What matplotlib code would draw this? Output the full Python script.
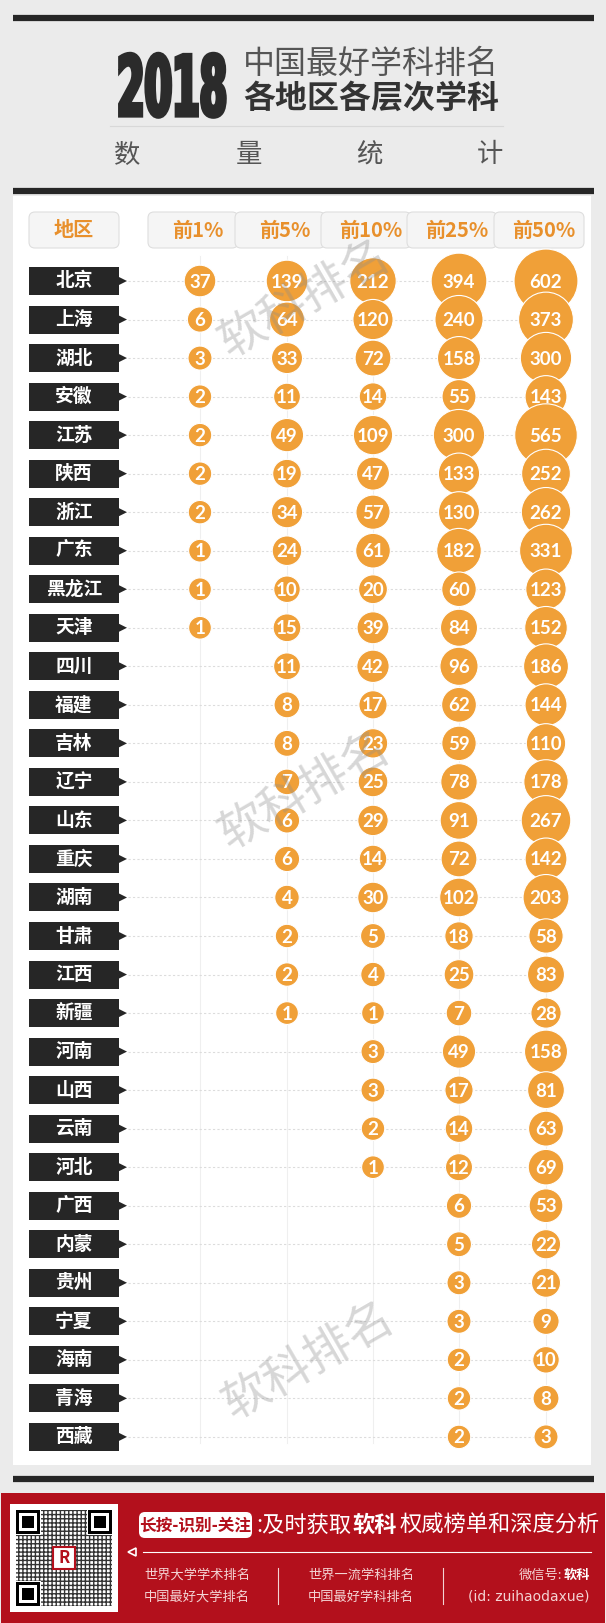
import numpy as np
import matplotlib
matplotlib.use("Agg")
import matplotlib.pyplot as plt
from matplotlib.patches import Rectangle, FancyBboxPatch, Polygon
from matplotlib import font_manager, patheffects
from matplotlib.transforms import Affine2D

plt.rcParams['font.family'] = ['Noto Sans CJK SC', 'DejaVu Sans']

regions = ['北京', '上海', '湖北', '安徽', '江苏', '陕西', '浙江', '广东', '黑龙江', '天津',
           '四川', '福建', '吉林', '辽宁', '山东', '重庆', '湖南', '甘肃', '江西', '新疆',
           '河南', '山西', '云南', '河北', '广西', '内蒙', '贵州', '宁夏', '海南', '青海', '西藏']
levels = ['前1%', '前5%', '前10%', '前25%', '前50%']
top1 = [37, 6, 3, 2, 2, 2, 2, 1, 1, 1]
top5 = [139, 64, 33, 11, 49, 19, 34, 24, 10, 15, 11, 8, 8, 7, 6, 6, 4, 2, 2, 1]
top10 = [212, 120, 72, 14, 109, 47, 57, 61, 20, 39, 42, 17, 23, 25, 29, 14, 30, 5, 4, 1,
         3, 3, 2, 1]
top25 = [394, 240, 158, 55, 300, 133, 130, 182, 60, 84, 96, 62, 59, 78, 91, 72, 102, 18, 25, 7,
         49, 17, 14, 12, 6, 5, 3, 3, 2, 2, 2]
top50 = [602, 373, 300, 143, 565, 252, 262, 331, 123, 152, 186, 144, 110, 178, 267, 142, 203, 58, 83, 28,
         158, 81, 63, 69, 53, 22, 21, 9, 10, 8, 3]
columns = [top1, top5, top10, top25, top50]

W, H = 606, 1623
BG = '#ebebeb'
ORANGE = '#f0a038'
DARK = '#262626'
RED = '#b3101c'

avail = {f.name for f in font_manager.fontManager.ttflist}
numfont = next((f for f in ['Lato', 'Open Sans', 'DejaVu Sans'] if f in avail), 'DejaVu Sans')


class Stretch(patheffects.AbstractPathEffect):
    # stretch glyphs vertically around y0 (display px) and thicken with a stroke
    def __init__(self, sy, y0, lw, color):
        super().__init__()
        self.sy, self.y0, self.lw, self.color = sy, y0, lw, color

    def draw_path(self, renderer, gc, tpath, affine, rgbFace=None):
        aff = affine + Affine2D().translate(0, -self.y0).scale(1, self.sy).translate(0, self.y0)
        gc0 = renderer.new_gc()
        gc0.copy_properties(gc)
        gc0.set_linewidth(self.lw)
        gc0.set_foreground(self.color)
        gc0.set_joinstyle('miter')
        renderer.draw_path(gc0, tpath, aff, rgbFace)
        gc0.restore()


fig = plt.figure(figsize=(W / 100, H / 100), dpi=100, facecolor=BG)
ax = fig.add_axes([0, 0, 1, 1])
ax.set_xlim(0, W)
ax.set_ylim(H, 0)
ax.axis('off')

# title block
ax.plot([13, 594], [18, 18], color=DARK, lw=4.5, solid_capstyle='butt')
ax.plot([13, 594], [191, 191], color=DARK, lw=4.5, solid_capstyle='butt')
t2018 = ax.text(117, 83, '2018', family=['DejaVu Sans'], weight='bold', fontsize=28.5,
                color='#2b2b2b', ha='left', va='center_baseline')
y0 = ax.transData.transform((0, 83))[1]
t2018.set_path_effects([Stretch(2.1, y0, 3.0, '#2b2b2b')])
ax.text(243, 64, '中国最好学科排名', fontsize=23, weight='light', color='#555555', va='center')
ax.text(243, 99, '各地区各层次学科', fontsize=23, weight='bold', color='#333333', va='center')
ax.plot([110, 503], [126, 126], color='#d8d8d8', lw=0.8)
for ch, x in zip('数量统计', [127, 249, 369, 490]):
    ax.text(x, 155, ch, fontsize=19, color='#555555', ha='center', va='center')

# white panel
ax.add_patch(Rectangle((13, 196), 578, 1269, facecolor='white', edgecolor='none', zorder=0))
ax.plot([13, 594], [1479, 1479], color=DARK, lw=4.5, solid_capstyle='butt')

col_x = np.array([200, 287, 373, 459, 546])
y0, dy = 281, 38.53
row_y = y0 + dy * np.arange(len(regions))

# header row
ax.add_patch(FancyBboxPatch((29, 212), 90, 36, boxstyle='round,pad=0,rounding_size=6',
                            facecolor='#f5f5f5', edgecolor='#dedede', lw=0.8, zorder=1))
ax.text(74, 230, '地区', fontsize=14.5, weight='bold', color='#e8902c', ha='center', va='center', zorder=2)
for cx, lab in zip(col_x, levels):
    ax.add_patch(FancyBboxPatch((cx - 52, 212), 90, 36, boxstyle='round,pad=0,rounding_size=6',
                                facecolor='#f5f5f5', edgecolor='#dedede', lw=0.8, zorder=1))
    ax.text(cx - 2, 230, lab, fontsize=14.5, weight='bold', color='#e8902c', ha='center', va='center',
            zorder=2)

# grid lines
for cx in col_x:
    ax.plot([cx, cx], [256, row_y[-1] + 6], color='#efefef', lw=0.8, zorder=1)
for y in row_y:
    ax.plot([128, col_x[-1]], [y, y], color='#dcdcdc', lw=0.8, ls=(0, (2, 2)), zorder=1)

# region labels
for y, name in zip(row_y, regions):
    ax.add_patch(Rectangle((29, y - 14), 90, 28, facecolor=DARK, edgecolor='none', zorder=2))
    ax.add_patch(Polygon([[119, y - 4], [127, y], [119, y + 4]], closed=True,
                         facecolor=DARK, edgecolor='none', zorder=2))
    ax.text(74, y, name, fontsize=13.5, weight='bold', color='white', ha='center', va='center', zorder=3)

# bubbles
for cx, vals in zip(col_x, columns):
    v = np.array(vals, dtype=float)
    d = 21 + 1.75 * np.sqrt(v)
    ys = row_y[:len(v)]
    ax.scatter(np.full(len(v), cx), ys, s=(d * 0.72) ** 2, color=ORANGE,
               edgecolor='white', linewidth=0.8, zorder=4)
    for y, val in zip(ys, vals):
        ax.text(cx, y + 1, str(val), family=[numfont, 'DejaVu Sans'], weight='bold', fontsize=13.5,
                color='white', ha='center', va='center', zorder=5)

# watermarks
for x, y in [(304, 300), (304, 792), (308, 1362)]:
    ax.text(x, y, '软科排名', fontsize=34, color='#8c8c8c', alpha=0.35, rotation=30,
            ha='center', va='center', zorder=6)

# footer
ax.add_patch(Rectangle((1, 1493), 604, 130, facecolor=RED, edgecolor='none', zorder=1))
ax.add_patch(Rectangle((10, 1504), 108, 108, facecolor='white', edgecolor='none', zorder=2))
ax.add_patch(Rectangle((16, 1510), 96, 96, facecolor='white', edgecolor='#333333', hatch='++++',
                       lw=0, zorder=2))
for fx, fy in [(16, 1510), (88, 1510), (16, 1582)]:
    ax.add_patch(Rectangle((fx - 1, fy - 1), 26, 26, facecolor='white', edgecolor='none', zorder=3))
    ax.add_patch(Rectangle((fx, fy), 24, 24, facecolor='black', edgecolor='none', zorder=3))
    ax.add_patch(Rectangle((fx + 3, fy + 3), 18, 18, facecolor='white', edgecolor='none', zorder=3))
    ax.add_patch(Rectangle((fx + 6, fy + 6), 12, 12, facecolor='black', edgecolor='none', zorder=3))
ax.add_patch(Rectangle((53, 1547), 22, 22, facecolor='white', edgecolor=RED, lw=1.5, zorder=3))
ax.text(64, 1558, 'R', fontsize=12, weight='bold', style='italic', color=RED, ha='center', va='center',
        zorder=4)

ax.add_patch(FancyBboxPatch((139, 1512), 113, 26, boxstyle='round,pad=0,rounding_size=6',
                            facecolor='white', edgecolor='none', zorder=2))
ax.text(195, 1525, '长按-识别-关注', fontsize=12, weight='bold', color=RED, ha='center', va='center', zorder=3)
ax.text(256, 1525, ':及时获取', fontsize=16, color='white', ha='left', va='center', zorder=3)
ax.text(352, 1525, '软科', fontsize=16, weight='bold', color='white', ha='left', va='center', zorder=3)
ax.text(400, 1525, '权威榜单和深度分析', fontsize=16, color='white', ha='left', va='center', zorder=3)
ax.add_patch(Polygon([[128, 1552], [136, 1548], [136, 1556]], closed=True, facecolor='none',
                     edgecolor='white', lw=1.2, zorder=3))
ax.plot([143, 591], [1552, 1552], color='white', lw=0.8, zorder=3)
pink = '#f3d3d3'
ax.text(144, 1575, '世界大学学术排名', fontsize=9.5, color=pink, va='center', zorder=3)
ax.text(144, 1597, '中国最好大学排名', fontsize=9.5, color=pink, va='center', zorder=3)
ax.text(308, 1575, '世界一流学科排名', fontsize=9.5, color=pink, va='center', zorder=3)
ax.text(308, 1597, '中国最好学科排名', fontsize=9.5, color=pink, va='center', zorder=3)
ax.plot([278, 278], [1568, 1604], color=pink, lw=0.8, zorder=3)
ax.plot([443, 443], [1568, 1604], color=pink, lw=0.8, zorder=3)
ax.text(562, 1575, '微信号:', fontsize=9.5, color=pink, ha='right', va='center', zorder=3)
ax.text(590, 1575, '软科', fontsize=9.5, weight='bold', color='white', ha='right', va='center', zorder=3)
ax.text(590, 1597, '(id: zuihaodaxue)', fontsize=10, color=pink, ha='right', va='center',
        family=['DejaVu Sans'], zorder=3)

fig.savefig('out.png', dpi=100, facecolor=BG)
